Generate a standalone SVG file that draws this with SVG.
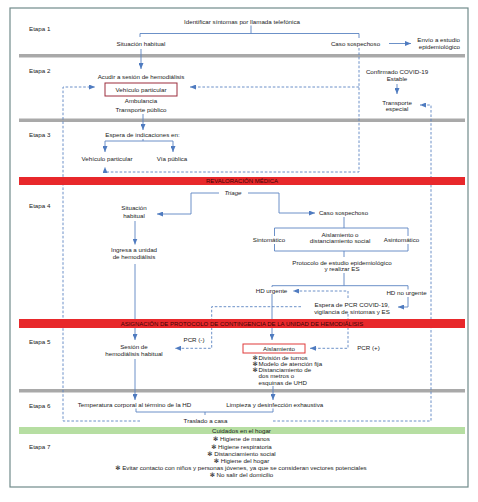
<svg xmlns="http://www.w3.org/2000/svg" width="478" height="502" viewBox="0 0 478 502">
<style>
text{font-family:"Liberation Sans","DejaVu Sans",Arial,sans-serif;font-size:6.2px;fill:#222}
.c{text-anchor:middle}
.e{text-anchor:end}
.bar{font-size:6px;fill:#3a0606;text-anchor:middle}
.ln{fill:none;stroke:#5b84c2;stroke-width:0.9}
.ds{fill:none;stroke:#5b84c2;stroke-width:0.9;stroke-dasharray:2.6,1.8}
.gray{fill:#a9a9a9}
.red{fill:#e8282b}
.wb{fill:#fff}
</style>
<defs>
<marker id="ah" viewBox="0 0 6 5" refX="6" refY="2.5" markerWidth="6" markerHeight="5" markerUnits="userSpaceOnUse" orient="auto">
<path d="M0,0 L6,2.5 L0,5 z" fill="#4f7bc0"/>
</marker>
</defs>
<rect x="10" y="8" width="458" height="479" fill="#fff" stroke="#718b8b" stroke-width="1.2"/>
<g id="separators">
<rect class="gray" x="19" y="54" width="446" height="3.5"/>
<rect class="gray" x="19" y="118.5" width="446" height="3.5"/>
<rect class="gray" x="19" y="389" width="446" height="3.5"/>
</g>
<g id="stage-labels">
<text x="29" y="31">Etapa 1</text>
<text x="29" y="73">Etapa 2</text>
<text x="29" y="137">Etapa 3</text>
<text x="29" y="208">Etapa 4</text>
<text x="29" y="344">Etapa 5</text>
<text x="29" y="408">Etapa 6</text>
<text x="29" y="449">Etapa 7</text>
</g>
<g id="connectors">
<path class="ln" d="M251,25.5 V33.5 M140,37 V33.5 H359 V38"/>
<path class="ln" d="M389,43.5 H411" marker-end="url(#ah)"/>
<path class="ln" d="M141,49 V69" marker-end="url(#ah)"/>
<path class="ds" d="M359,48 V172 H105 V167" marker-end="url(#ah)"/>
<path class="ds" d="M359,87 H190" marker-end="url(#ah)"/>
<path class="ds" d="M140,421 H63 V87 H95" marker-end="url(#ah)"/>
<path class="ln" d="M397,84 V94" marker-end="url(#ah)"/>
<path class="ds" d="M273,421 H431 V105 H420" marker-end="url(#ah)"/>
<path class="ln" d="M143,114 V130" marker-end="url(#ah)"/>
<path class="ln" d="M143,139 V141 M105,141 H173"/>
<path class="ln" d="M105,141 V152" marker-end="url(#ah)"/>
<path class="ln" d="M173,141 V152" marker-end="url(#ah)"/>
<path class="ln" d="M219,193 H191 V214 H157" marker-end="url(#ah)"/>
<path class="ln" d="M248,193 H279 V213 H315" marker-end="url(#ah)"/>
<path class="ln" d="M135,221 V244.5" marker-end="url(#ah)"/>
<path class="ln" d="M135,264 V340" marker-end="url(#ah)"/>
<path class="ln" d="M344,217 V228 M274.5,228 H408 V251 H274.5 Z M344,251 V257 M344,273 V285.7 M272,285.7 H408"/>
<path class="ln" d="M272,285.7 V340" marker-end="url(#ah)"/>
<path class="ln" d="M408,285.7 V307 H398" marker-end="url(#ah)"/>
<path class="ds" d="M348,298 V291 H293" marker-end="url(#ah)"/>
<path class="ds" d="M301,306.7 H211.7 V348.3 H175" marker-end="url(#ah)"/>
<path class="ds" d="M348,314 V348.3 H310" marker-end="url(#ah)"/>
<path class="ln" d="M135,359 V400" marker-end="url(#ah)"/>
<path class="ln" d="M273,386 V400" marker-end="url(#ah)"/>
<path class="ln" d="M136,408.5 V412 H273 V408.5 M205,412 V415"/>
</g>
<g id="bars">
<rect class="red" x="19" y="177" width="446" height="8"/>
<text class="bar" x="242" y="183.2">REVALORACIÓN MÉDICA</text>
<rect class="red" x="19" y="319" width="446" height="9"/>
<text class="bar" x="242" y="325.6">ASIGNACIÓN DE PROTOCOLO DE CONTINGENCIA DE LA UNIDAD DE HEMODIÁLISIS</text>
<rect x="19" y="427" width="446" height="7" fill="#b6dea2"/>
<text class="c" x="241.5" y="432.6">Cuidados en el hogar</text>
</g>
<g id="n-identificar"><text class="c" x="242" y="23.7">Identificar síntomas por llamada telefónica</text></g>
<g id="n-situacion1"><text class="c" x="141" y="45.5">Situación habitual</text></g>
<g id="n-caso1"><text class="c" x="355.5" y="45.5">Caso sospechoso</text></g>
<g id="n-envio"><text class="e" x="460" y="42">Envío a estudio</text><text class="e" x="460" y="48.5">epidemiológico</text></g>
<g id="n-acudir"><text class="c" x="141" y="79">Acudir a sesión de hemodiálisis</text></g>
<g id="n-vehiculo1"><rect x="105" y="83" width="72" height="13" fill="#fff" stroke="#9b2c3c" stroke-width="1"/><text class="c" x="141" y="91.7">Vehículo particular</text></g>
<g id="n-ambulancia"><text class="c" x="141" y="103.3">Ambulancia</text><text class="c" x="141" y="112">Transporte público</text></g>
<g id="n-confirmado"><text class="c" x="397" y="74.3">Confirmado COVID-19</text><text class="c" x="397" y="81">Estable</text></g>
<g id="n-transporte"><text class="c" x="397" y="104.5">Transporte</text><text class="c" x="397" y="110.8">especial</text></g>
<g id="n-espera"><text class="c" x="142.5" y="137">Espera de indicaciones en:</text></g>
<g id="n-vehiculo2"><text class="c" x="107" y="161.3">Vehículo particular</text></g>
<g id="n-via"><text class="c" x="172" y="161.3">Vía pública</text></g>
<g id="n-triage"><text class="c" x="233" y="195" font-style="italic">Triage</text></g>
<g id="n-situacion2"><text class="c" x="134" y="209.5">Situación</text><text class="c" x="134" y="217.5">habitual</text></g>
<g id="n-caso2"><text class="c" x="343.5" y="215">Caso sospechoso</text></g>
<g id="n-ingresa"><text class="c" x="134" y="252">Ingresa a unidad</text><text class="c" x="134" y="259.3">de hemodiálisis</text></g>
<g id="n-sintomatico"><rect class="wb" x="253" y="236" width="32" height="8"/><text class="c" x="269" y="242">Sintomático</text></g>
<g id="n-aislamiento-o"><text class="c" x="340" y="237">Aislamiento o</text><text class="c" x="340" y="243.3">distanciamiento social</text></g>
<g id="n-asintomatico"><rect class="wb" x="383" y="236" width="37" height="8"/><text class="c" x="401.5" y="242">Asintomático</text></g>
<g id="n-protocolo"><text class="c" x="342" y="265.3">Protocolo de estudio epidemiológico</text><text class="c" x="342" y="271.3">y realizar ES</text></g>
<g id="n-hdurgente"><rect class="wb" x="255" y="287" width="33" height="7"/><text class="c" x="271.5" y="293">HD urgente</text></g>
<g id="n-hdnourgente"><rect class="wb" x="386" y="289.5" width="41" height="7.5"/><text class="c" x="406.5" y="295.3">HD no urgente</text></g>
<g id="n-esperapcr"><text class="c" x="352" y="307">Espera de PCR COVID-19,</text><text class="c" x="352" y="313.7">vigilancia de síntomas y ES</text></g>
<g id="n-pcrneg"><text class="c" x="194" y="342">PCR (-)</text></g>
<g id="n-sesion"><text class="c" x="134" y="348.7">Sesión de</text><text class="c" x="134" y="356.3">hemodiálisis habitual</text></g>
<g id="n-aislamiento"><rect x="243" y="344" width="62" height="9" fill="#fff" stroke="#e03a3a" stroke-width="1"/><text class="c" x="279" y="350.6">Aislamiento</text></g>
<g id="n-pcrpos"><text class="c" x="368.5" y="350.3">PCR (+)</text></g>
<g id="n-medidas">
<text x="252.5" y="359.6">✻</text><text x="258.5" y="359.6">División de turnos</text>
<text x="252.5" y="365.9">✻</text><text x="258.5" y="365.9">Modelo de atención fija</text>
<text x="252.5" y="372.1">✻</text><text x="258.5" y="372.1">Distanciamiento de</text>
<text x="258.5" y="378.4">dos metros o</text>
<text x="258.5" y="384.7">esquinas de UHD</text>
</g>
<g id="n-temperatura"><text class="c" x="134.5" y="407.3">Temperatura corporal al término de la HD</text></g>
<g id="n-limpieza"><text class="c" x="274.7" y="406.5">Limpieza y desinfección exhaustiva</text></g>
<g id="n-traslado"><text class="c" x="205.5" y="422.9">Traslado a casa</text></g>
<g id="n-cuidados">
<text class="c" x="241.5" y="441.4">✻ Higiene de manos</text>
<text class="c" x="241.5" y="448.6">✻ Higiene respiratoria</text>
<text class="c" x="241.5" y="455.8">✻ Distanciamiento social</text>
<text class="c" x="241.5" y="463">✻ Higiene del hogar</text>
<text class="c" x="241" y="470.2">✻ Evitar contacto con niños y personas jóvenes, ya que se consideran vectores potenciales</text>
<text class="c" x="241.5" y="477.4">✻ No salir del domicilio</text>
</g>
</svg>
